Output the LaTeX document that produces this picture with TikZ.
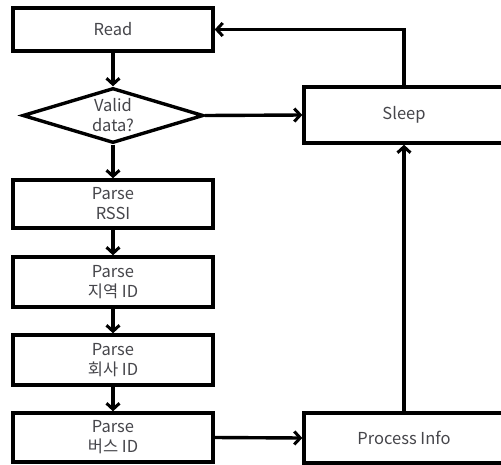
\documentclass[tikz,border=0pt]{standalone}
\usepackage{fontspec}
\setmainfont{Noto Sans CJK KR}
\usetikzlibrary{arrows.meta,shapes.geometric}
\definecolor{txt}{RGB}{70,70,75}
\tikzset{
  box/.style={draw=black, line width=3.4pt, fill=white, minimum width=200pt, text=txt,
    font=\fontsize{16.5pt}{20pt}\selectfont, align=center, inner sep=0pt},
  decision/.style={draw=black, line width=3.4pt, fill=white, diamond, aspect=3.3,
    minimum width=181pt, minimum height=55pt, inner sep=0pt, text=txt,
    font=\fontsize{16.5pt}{20pt}\selectfont, align=center},
  flow/.style={line width=3.4pt, -{Straight Barb[length=6pt,width=13pt,line width=3pt]}}
}
\begin{document}
\begin{tikzpicture}[x=1pt,y=-1pt]
\useasboundingbox (0,0) rectangle (501,464);
\clip (0,0) rectangle (501,464);
\fill[white] (0,0) rectangle (501,464);
% left column
\node[box, minimum height=43pt] (read) at (113,29.5) {Read};
\node[decision] (valid) at (113,115.5) {Valid\\data?};
\node[box, minimum height=48pt] (rssi) at (113,204) {Parse\\RSSI};
\node[box, minimum height=50pt] (region) at (113,282) {Parse\\지역 ID};
\node[box, minimum height=50pt] (company) at (113,360) {Parse\\회사 ID};
\node[box, minimum height=49pt] (bus) at (113,437.5) {Parse\\버스 ID};
% right column
\node[box, minimum height=56pt] (sleep) at (404,115) {Sleep};
\node[box, minimum height=50pt] (proc) at (404,438) {Process Info};
% connectors
\draw[flow] (read) -- (valid);
\draw[flow] (valid) -- (rssi);
\draw[flow] (rssi) -- (region);
\draw[flow] (region) -- (company);
\draw[flow] (company) -- (bus);
\draw[flow] (valid.east) -- (sleep.west);
\draw[flow] (bus.east) -- (proc.west);
\draw[flow] (proc.north) -- (sleep.south);
\coordinate (corner) at (sleep.north |- read.east);
\draw[flow] (sleep.north) -- (corner) -- (read.east);
\end{tikzpicture}
\end{document}
